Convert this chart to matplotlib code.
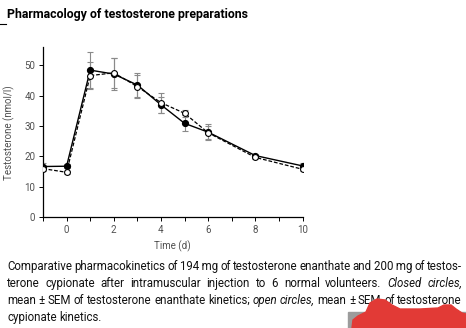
import numpy as np
import matplotlib.pyplot as plt
from matplotlib.patches import Rectangle, Polygon

# Serum testosterone (nmol/l) after a single i.m. injection
days = [-1, 0, 1, 2, 3, 4, 5, 6, 8, 10]
enanthate = [16.7, 16.8, 48.4, 47.1, 43.5, 37.0, 30.9, 28.0, 20.3, 16.9]
enanthate_sem = [1.0, 0.6, 5.8, 5.2, 4.0, 2.6, 2.6, 2.6, 0.5, 0.9]
cypionate = [16.0, 14.8, 46.6, 47.5, 43.0, 37.7, 34.2, 27.8, 19.7, 15.8]
cypionate_sem = [0.9, 0.5, 4.5, 5.0, 3.8, 3.3, 1.1, 2.2, 0.5, 0.6]

W, H = 466, 328
plt.rcParams['font.family'] = ['Roboto', 'DejaVu Sans']
fig = plt.figure(figsize=(W / 100, H / 100), dpi=100)

ax = fig.add_axes([43 / W, 1 - 217.3 / H, (302.5 - 43) / W, (217.3 - 47) / H])
ecol = '#8a8a8a'
ax.errorbar(days, cypionate, yerr=cypionate_sem, fmt='none', ecolor=ecol,
            elinewidth=0.8, capsize=2.2, capthick=0.8, zorder=1)
ax.errorbar(days, enanthate, yerr=enanthate_sem, fmt='none', ecolor=ecol,
            elinewidth=0.8, capsize=2.2, capthick=0.8, zorder=1)
ax.plot(days, cypionate, '--o', color='black', lw=0.9, dashes=(3, 1.5),
        ms=4.2, mfc='white', mec='black', mew=0.8, zorder=3)
ax.plot(days, enanthate, '-o', color='black', lw=1.0,
        ms=4.2, mfc='black', mec='black', zorder=2)

ax.set_xlim(-1, 10)
ax.set_ylim(0, 56)
ax.set_xticks([0, 2, 4, 6, 8, 10])
ax.set_xticks([-1, 1, 3, 5, 7, 9], minor=True)
ax.set_yticks([0, 10, 20, 30, 40, 50])
for s in ['top', 'right']:
    ax.spines[s].set_visible(False)
for s in ['left', 'bottom']:
    ax.spines[s].set_linewidth(0.9)
ax.tick_params(which='both', direction='out', length=3, width=0.7,
               labelsize=7, labelcolor='#505050', pad=2.5)
ax.set_xlabel('Time (d)', fontsize=7, color='#505050', labelpad=4)
ax.set_ylabel('Testosterone (nmol/l)', fontsize=7, color='#505050', labelpad=7)

# page overlay in pixel coordinates
page = fig.add_axes([0, 0, 1, 1], zorder=-1)
page.set_xlim(0, W)
page.set_ylim(H, 0)
page.axis('off')
fig.canvas.draw()
r = fig.canvas.get_renderer()

title = page.text(7, 18, 'Pharmacology of testosterone preparations', fontsize=9,
                  fontweight='bold', va='baseline', ha='left')
tw = title.get_window_extent(r).width
title.set_fontsize(9 * 242 / tw)
page.plot([0, 6], [24, 24], color='black', lw=0.8)

caption = [
    [('Comparative', 0), ('pharmacokinetics', 0), ('of', 0), ('194\u2009mg', 0), ('of', 0),
     ('testosterone', 0), ('enanthate', 0), ('and', 0), ('200\u2009mg', 0), ('of', 0), ('testos-', 0)],
    [('terone', 0), ('cypionate', 0), ('after', 0), ('intramuscular', 0), ('injection', 0),
     ('to', 0), ('6', 0), ('normal', 0), ('volunteers.', 0), ('Closed', 1), ('circles,', 1)],
    [('mean', 0), ('±', 0), ('SEM', 0), ('of', 0), ('testosterone', 0), ('enanthate', 0),
     ('kinetics;', 0), ('open', 1), ('circles,', 1), ('mean', 0), ('±', 0), ('SEM', 0),
     ('of', 0), ('testosterone', 0)],
    [('cypionate', 0), ('kinetics.', 0)],
]
baselines = [270, 287, 304, 321]
x0, x1 = 7, 462
fs = 9.5


def measure(size):
    objs, widths = [], []
    for line, yb in zip(caption, baselines):
        row = [page.text(0, yb, w, fontsize=size, style='italic' if it else 'normal',
                         va='baseline', ha='left', color='#111111') for w, it in line]
        objs.append(row)
        widths.append([o.get_window_extent(r).width for o in row])
    return objs, widths


# shrink the caption until the tightest justified line keeps a usable word gap
while True:
    probe = page.text(0, 0, 'a a', fontsize=fs)
    probe2 = page.text(0, 0, 'aa', fontsize=fs)
    sw = probe.get_window_extent(r).width - probe2.get_window_extent(r).width
    probe.remove()
    probe2.remove()
    objs, widths = measure(fs)
    gaps = [(x1 - x0 - sum(w)) / (len(w) - 1) for w in widths[:-1]]
    if min(gaps) >= sw * 0.72 or fs < 6:
        break
    for row in objs:
        for o in row:
            o.remove()
    fs -= 0.1

for i, (row, w) in enumerate(zip(objs, widths)):
    gap = gaps[i] if i < len(objs) - 1 else sw
    x = x0
    for o, wi in zip(row, w):
        o.set_x(x)
        x += wi + gap

# red mark over the lower right corner
page.add_patch(Rectangle((348, 312), W - 348, H - 312, color='#9c9c9c', zorder=5))
blob = [(352, 328), (353, 320), (358, 316), (366, 312), (370, 303), (377, 299),
        (385, 300), (392, 305), (400, 309), (420, 309), (438, 308), (444, 305),
        (451, 305), (456, 309), (462, 313), (466, 314), (466, 328)]
page.add_patch(Polygon(blob, closed=True, color='#e23a36', zorder=6))

fig.savefig('out.png', dpi=100)
